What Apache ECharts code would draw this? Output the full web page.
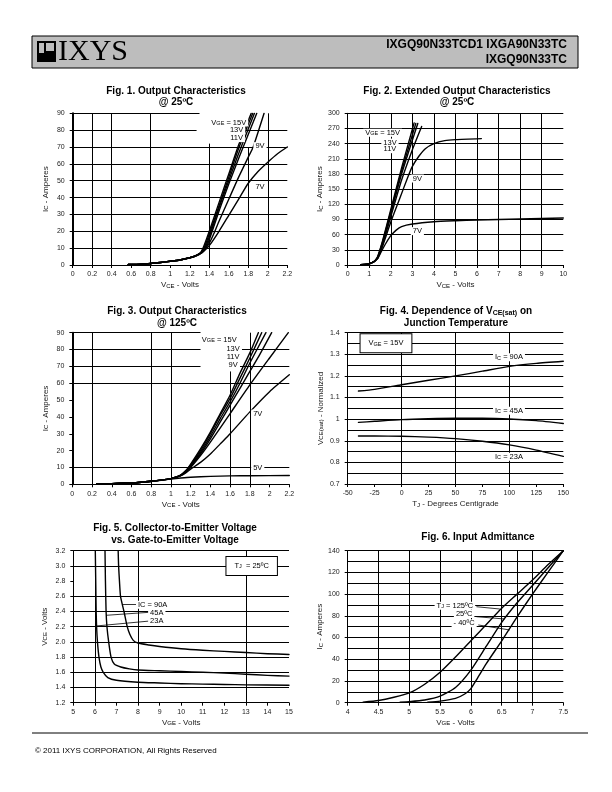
<!DOCTYPE html>
<html><head><meta charset="utf-8">
<script src="https://cdn.jsdelivr.net/npm/echarts/dist/echarts.min.js"></script>
<style>html,body{margin:0;padding:0;background:#fff}#c{width:612px;height:792px}</style>
</head><body><div id="c"></div>
<script>
// ================= DATA =================
// Fig 1 : Output characteristics @25C  [VCE, IC]
const fig1XTicks = [0,0.2,0.4,0.6,0.8,1,1.2,1.4,1.6,1.8,2,2.2];
const fig1YTicks = [0,10,20,30,40,50,60,70,80,90];
const fig1Vge15 = [[0.57,0.3],[0.7,0.5],[0.8,0.9],[0.9,1.5],[1.0,2.2],[1.1,3.0],[1.2,4.3],[1.25,5.2],[1.3,6.8],[1.32,8],[1.35,12],[1.4,20],[1.5,37],[1.6,54],[1.7,71],[1.83,90]];
const fig1Vge13 = [[0.57,0.3],[0.7,0.5],[0.8,0.9],[0.9,1.5],[1.0,2.2],[1.1,3.0],[1.2,4.3],[1.25,5.2],[1.3,6.8],[1.32,8],[1.36,12],[1.41,20],[1.5,35],[1.6,52],[1.7,69],[1.846,90]];
const fig1Vge11 = [[0.57,0.3],[0.7,0.5],[0.8,0.9],[0.9,1.5],[1.0,2.2],[1.1,3.0],[1.2,4.3],[1.25,5.2],[1.3,6.7],[1.32,7.8],[1.37,12],[1.42,20],[1.5,34],[1.6,50],[1.7,66],[1.863,90]];
const fig1VgeD  = [[0.57,0.3],[0.7,0.5],[0.8,0.9],[0.9,1.5],[1.0,2.2],[1.1,3.0],[1.2,4.3],[1.25,5.2],[1.3,6.6],[1.33,7.8],[1.38,12],[1.43,20],[1.5,32],[1.6,48],[1.7,63],[1.887,90]];
const fig1Vge9  = [[0.57,0.3],[0.7,0.5],[0.8,0.9],[0.9,1.5],[1.0,2.2],[1.1,3.0],[1.2,4.3],[1.25,5.2],[1.3,6.5],[1.33,7.5],[1.4,13],[1.45,19],[1.5,26],[1.6,39],[1.7,52],[1.8,64],[1.85,70],[1.962,90]];
const fig1Vge7  = [[0.57,0.3],[0.7,0.5],[0.8,0.9],[0.9,1.5],[1.0,2.2],[1.1,3.0],[1.2,4.3],[1.25,5.1],[1.3,6.3],[1.35,8.5],[1.4,11.5],[1.5,20],[1.6,29.5],[1.7,39],[1.8,48.5],[1.9,55.5],[2.0,61],[2.1,66],[2.2,70]];

// Fig 2 : Extended output characteristics @25C
const fig2XTicks = [0,1,2,3,4,5,6,7,8,9,10];
const fig2YTicks = [0,30,60,90,120,150,180,210,240,270,300];
const fig2Vge15 = [[0.6,0.5],[0.8,1],[1.0,2.5],[1.2,6],[1.3,10],[1.4,18],[1.6,45],[2,110],[2.5,192],[3.08,281]];
const fig2Vge13 = [[0.6,0.5],[0.8,1],[1.0,2.5],[1.2,6],[1.3,10],[1.4,17],[1.6,43],[2,106],[2.5,186],[3.16,280]];
const fig2Vge11 = [[0.6,0.5],[0.8,1],[1.0,2.5],[1.2,6],[1.3,10],[1.4,16],[1.6,41],[2,102],[2.5,180],[3.25,280]];
const fig2VgeD  = [[0.6,0.5],[0.8,1],[1.0,2.5],[1.2,6],[1.3,10],[1.4,15],[1.6,38],[2,96],[2.5,168],[3,228],[3.43,274]];
const fig2Vge9  = [[0.6,0.5],[0.8,1],[1.0,2.5],[1.2,6],[1.3,9.5],[1.4,14],[1.6,35],[2,85],[2.4,130],[2.8,175],[3,195],[3.3,215],[3.6,230],[4,240],[4.5,246],[5,248],[6.2,250]];
const fig2Vge7  = [[0.6,0.5],[0.8,1],[1.0,2.5],[1.2,6],[1.3,9],[1.4,13],[1.6,30],[1.8,45],[2,58],[2.25,69],[2.5,76],[3,81],[4,85.5],[5,87.5],[6,89],[7,90],[8,91],[9,92],[10,93]];

// Fig 3 : Output characteristics @125C
const fig3XTicks = [0,0.2,0.4,0.6,0.8,1,1.2,1.4,1.6,1.8,2,2.2];
const fig3YTicks = [0,10,20,30,40,50,60,70,80,90];
const fig3Vge15 = [[0.25,0.3],[0.4,0.4],[0.6,0.8],[0.7,1.2],[0.8,1.8],[0.9,2.5],[1.0,3.4],[1.05,4.2],[1.1,5.5],[1.15,8],[1.2,12],[1.3,21],[1.4,31],[1.5,42],[1.6,53],[1.7,66],[1.8,78],[1.886,90]];
const fig3Vge13 = [[0.25,0.3],[0.4,0.4],[0.6,0.8],[0.7,1.2],[0.8,1.8],[0.9,2.5],[1.0,3.4],[1.05,4.2],[1.1,5.5],[1.15,8],[1.2,11.5],[1.3,20],[1.4,30],[1.5,41],[1.6,51],[1.7,63],[1.8,75],[1.92,90]];
const fig3Vge11 = [[0.25,0.3],[0.4,0.4],[0.6,0.8],[0.7,1.2],[0.8,1.8],[0.9,2.5],[1.0,3.4],[1.05,4.2],[1.1,5.4],[1.15,7.8],[1.2,11],[1.3,19],[1.4,28.5],[1.5,39],[1.6,49],[1.7,60],[1.8,72],[1.963,90]];
const fig3Vge9  = [[0.25,0.3],[0.4,0.4],[0.6,0.8],[0.7,1.2],[0.8,1.8],[0.9,2.5],[1.0,3.4],[1.05,4.2],[1.1,5.3],[1.15,7.5],[1.2,10.5],[1.3,18],[1.4,27],[1.5,37],[1.6,47],[1.7,57],[1.8,67],[1.9,77],[2.021,90]];
const fig3VgeD  = [[0.25,0.3],[0.4,0.4],[0.6,0.8],[0.7,1.2],[0.8,1.8],[0.9,2.5],[1.0,3.4],[1.05,4.2],[1.1,5.2],[1.15,7.2],[1.2,10],[1.3,17],[1.4,25],[1.6,42],[1.8,59],[2.0,75],[2.19,90]];
const fig3Vge7  = [[0.25,0.3],[0.4,0.4],[0.6,0.8],[0.7,1.2],[0.8,1.8],[0.9,2.5],[1.0,3.4],[1.05,4.1],[1.1,5.1],[1.15,6.8],[1.2,9],[1.3,13],[1.4,18],[1.5,24],[1.6,30],[1.8,43],[2.0,55],[2.2,65]];
const fig3Vge5  = [[0.25,0.3],[0.4,0.4],[0.6,0.8],[0.7,1.2],[0.8,1.7],[0.9,2.4],[1.0,3.1],[1.1,3.7],[1.2,4.2],[1.4,4.7],[1.6,5.0],[1.8,5.1],[2.2,5.2]];

// Fig 4 : VCE(sat) normalized vs junction temperature
const fig4XTicks = [-50,-25,0,25,50,75,100,125,150];
const fig4YTicks = [0.7,0.8,0.9,1,1.1,1.2,1.3,1.4];
const fig4Tj   = [-40,-25,0,25,50,75,100,125,150];
const fig4Ic90 = [1.13,1.138,1.159,1.18,1.2,1.222,1.244,1.258,1.268];
const fig4Ic45 = [0.985,0.99,0.998,1.002,1.004,1.004,1.001,0.993,0.98];
const fig4Ic23 = [0.922,0.922,0.921,0.917,0.91,0.898,0.881,0.857,0.828];

// Fig 5 : VCE vs VGE
const fig5XTicks = [5,6,7,8,9,10,11,12,13,14,15];
const fig5YTicks = [1.2,1.4,1.6,1.8,2.0,2.2,2.4,2.6,2.8,3.0,3.2];
const fig5Ic90 = [[7.08,3.2],[7.1,3.0],[7.14,2.8],[7.19,2.6],[7.35,2.4],[7.5,2.2],[7.62,2.1],[7.78,2.02],[8,1.985],[8.5,1.96],[9,1.94],[10,1.91],[11,1.89],[12,1.875],[13,1.86],[14,1.845],[15,1.835]];
const fig5Ic45 = [[6.47,3.2],[6.49,2.8],[6.52,2.4],[6.56,2.2],[6.64,2.0],[6.75,1.8],[6.9,1.71],[7.2,1.67],[7.6,1.645],[8,1.63],[9,1.62],[10,1.61],[11,1.6],[12,1.59],[13,1.575],[14,1.56],[15,1.55]];
const fig5Ic23 = [[6.02,3.2],[6.04,2.8],[6.06,2.4],[6.08,2.2],[6.12,2.0],[6.19,1.8],[6.28,1.67],[6.39,1.6],[6.6,1.53],[7,1.495],[8,1.47],[9,1.46],[10,1.45],[11,1.445],[12,1.44],[13,1.435],[15,1.43]];

// Fig 6 : Input admittance
const fig6XTicks = [4,4.5,5,5.5,6,6.5,7,7.5];
const fig6YTicks = [0,20,40,60,80,100,120,140];
const fig6Tj125 = [[4.25,0.5],[4.5,2],[4.75,5],[5,9],[5.25,17],[5.5,28],[5.75,42],[6,57],[6.25,72],[6.5,87],[6.75,100],[7,113],[7.25,127],[7.5,140]];
const fig6Tj25  = [[4.85,0.5],[5,1],[5.25,2.5],[5.5,6],[5.75,14],[6,30],[6.25,52],[6.5,74],[6.75,92],[7,108],[7.25,124],[7.5,140]];
const fig6TjM40 = [[5.3,0.5],[5.5,1.5],[5.75,4],[5.9,8],[6,13],[6.1,22],[6.25,36],[6.5,57],[6.75,79],[7,100],[7.25,120],[7.5,140]];

// ================= CHART =================
const F = '"Liberation Sans", Arial, Helvetica, sans-serif';
const subRich = (fs) => ({ s: { fontSize: fs, lineHeight: fs, verticalAlign: 'bottom', fontFamily: F, color: '#000', padding:[0,0,0,0] } });

const grids = [
  {left:72.7, top:113.3, width:214.6, height:151.7},
  {left:347.7, top:113.3, width:215.6, height:151.7},
  {left:72.3, top:332.7, width:217, height:151.6},
  {left:347.7, top:332.7, width:215.6, height:151.3},
  {left:73.3, top:550.7, width:215.7, height:152},
  {left:347.7, top:550.7, width:215.6, height:152}
];
const xTicks = [fig1XTicks, fig2XTicks, fig3XTicks, fig4XTicks, fig5XTicks, fig6XTicks];
const yTicks = [fig1YTicks, fig2YTicks, fig3YTicks, fig4YTicks, fig5YTicks, fig6YTicks];
const xNames = ['V{s|CE} - Volts','V{s|CE} - Volts','V{s|CE} - Volts','T{s|J} - Degrees Centigrade','V{s|GE} - Volts','V{s|GE} - Volts'];
const yNames = ['I{s|C} - Amperes','I{s|C} - Amperes','I{s|C} - Amperes','V{s|CE(sat)} - Normalized','V{s|CE} - Volts','I{s|C} - Amperes'];

const xAxis = xTicks.map((t, i) => ({
  type:'value', gridIndex:i, min:t[0], max:t[t.length-1], interval:t[1]-t[0],
  axisLine:{show:true, onZero:false, lineStyle:{color:'#000', width:1}},
  axisTick:{show:true, length:3, lineStyle:{color:'#000'}},
  splitLine:{show:false},
  axisLabel:{fontSize:7, color:'#222', fontFamily:F, margin:6},
  name:xNames[i], nameLocation:'middle', nameGap:16,
  nameTextStyle:{fontSize:8, color:'#222', fontFamily:F, rich:subRich(6)}
}));
const yAxis = yTicks.map((t, i) => ({
  type:'value', gridIndex:i, min:t[0], max:t[t.length-1], interval:+(t[1]-t[0]).toFixed(6),
  axisLine:{show:true, onZero:false, lineStyle:{color:'#000', width: (i===0||i===2)?2:1}},
  axisTick:{show:true, length:3, lineStyle:{color:'#000'}},
  splitLine:{show:false},
  axisLabel:{fontSize:7, color:'#222', fontFamily:F, margin:8,
    formatter: i===4 ? (v => v.toFixed(1)) : (v => String(+v.toFixed(3)))},
  name:yNames[i], nameLocation:'middle', nameGap: i===4 ? 25 : 23,
  nameTextStyle:{fontSize:8, color:'#222', fontFamily:F, rich:subRich(6)}
}));

// grid lines: vx = full vertical, hy = full horizontal, sg = partial segments [x1,y1,x2,y2]
const gridLines = [
  {vx:[0.2,0.4,0.8,2.0], hy:[10,20,30,40,50,60,70], sg:[[1.4,0,1.4,72],[1.8,0,1.8,70],[0,80,1.27,80],[1.67,80,2.2,80],[0,90,1.3,90]]},
  {vx:[1,2,3,4,5,6,7,8,9], hy:[30,60,90,120,150,180,210,240,270,300], sg:[]},
  {vx:[0.2,0.8,1.0,1.8], hy:[10,60], sg:[[1.6,0,1.6,67],[0,70,1.3,70],[1.7,70,2.2,70],[0,80,1.3,80],[1.72,80,2.2,80],[0,90,1.3,90]]},
  {vx:[0,50,100], hy:[0.75,0.8,0.85,0.9,0.95,1,1.05,1.1,1.15,1.2,1.25,1.3,1.35,1.4], sg:[]},
  {vx:[6,8,13], hy:[1.4,1.6,1.8,2.0,2.2,2.4,2.6,3.0,3.2], sg:[]},
  {vx:[4.5,5,5.5,6,6.5,6.75,7], hy:[10,20,30,40,50,60,70,80,90,100,110,120,130,140], sg:[]}
];

// curve labels (data coordinates) and leader lines
const labels = [
  [{c:[1.6,84.5],t:'V{s|GE} = 15V'},{c:[1.68,80],t:'13V'},{c:[1.68,75.3],t:'11V'},{c:[1.92,70.5],t:'9V'},{c:[1.92,46.3],t:'7V'}],
  [{c:[1.62,261.6],t:'V{s|GE} = 15V'},{c:[1.96,242],t:'13V'},{c:[1.96,229],t:'11V'},{c:[3.23,171],t:'9V'},{c:[3.23,67],t:'7V'}],
  [{c:[1.49,86],t:'V{s|GE} = 15V'},{c:[1.63,80.3],t:'13V'},{c:[1.63,75.4],t:'11V'},{c:[1.63,70.6],t:'9V'},{c:[1.88,42],t:'7V'},{c:[1.88,9.5],t:'5V'}],
  [{c:[-14.5,1.351],t:'V{s|GE} = 15V',box:true},{c:[99.6,1.286],t:'I{s|C} = 90A'},{c:[99.6,1.039],t:'I{s|C} = 45A'},{c:[99.6,0.826],t:'I{s|C} = 23A'}],
  [{c:[13.27,3.0],t:'T{s|J}  = 25ºC',box:true},{c:[8.68,2.49],t:'IC = 90A'},{c:[8.87,2.385],t:'45A'},{c:[8.87,2.28],t:'23A'}],
  [{c:[5.74,89.3],t:'T{s|J} = 125ºC'},{c:[5.89,81.7],t:'25ºC'},{c:[5.89,73.1],t:'- 40ºC'}]
];
const leaders = [[],[],[],[],
  [[7.29,2.49,8.05,2.49],[6.52,2.35,8.55,2.39],[6.08,2.21,8.55,2.275]],
  [[6.09,88.4,6.47,86.3],[6.09,79.2,6.55,77.1],[6.12,71.6,6.63,67]]
];

const curves = [
  [fig1Vge15, fig1Vge13, fig1Vge11, fig1VgeD, fig1Vge9, fig1Vge7],
  [fig2Vge15, fig2Vge13, fig2Vge11, fig2VgeD, fig2Vge9, fig2Vge7],
  [fig3Vge15, fig3Vge13, fig3Vge11, fig3Vge9, fig3VgeD, fig3Vge7, fig3Vge5],
  [fig4Ic90.map((v,k)=>[fig4Tj[k],v]), fig4Ic45.map((v,k)=>[fig4Tj[k],v]), fig4Ic23.map((v,k)=>[fig4Tj[k],v])],
  [fig5Ic90, fig5Ic45, fig5Ic23],
  [fig6Tj125, fig6Tj25, fig6TjM40]
];

const series = [];
curves.forEach((list, i) => {
  list.forEach(d => series.push({
    type:'line', xAxisIndex:i, yAxisIndex:i, data:d, showSymbol:false, symbol:'none',
    smooth:0.2, silent:true, animation:false, z:3,
    lineStyle:{color:'#000', width:1.4, join:'round', cap:'round'}
  }));
  const g = gridLines[i];
  const ml = [];
  g.vx.forEach(v => ml.push({xAxis:v}));
  g.hy.forEach(v => ml.push({yAxis:v}));
  g.sg.forEach(s => ml.push([{coord:[s[0],s[1]]},{coord:[s[2],s[3]]}]));
  series.push({
    type:'line', xAxisIndex:i, yAxisIndex:i, data:[[xTicks[i][0], yTicks[i][0]]], symbol:'none',
    lineStyle:{opacity:0}, silent:true, animation:false, z:1,
    markLine:{silent:true, symbol:['none','none'], animation:false, label:{show:false},
      lineStyle:{color:'#000', width:1, type:'solid'}, emphasis:{disabled:true}, data:ml}
  });
  const mp = labels[i].map(L => ({
    coord:L.c, symbol:'rect', symbolSize:1, itemStyle:{color:'rgba(0,0,0,0)'},
    label:{show:true, position:'inside', formatter:()=>L.t, fontSize:7.5, lineHeight:8, color:'#000', fontFamily:F,
      backgroundColor:'#fff', padding: L.box ? [5,8] : [0,2],
      borderColor: L.box ? '#000' : 'transparent', borderWidth: L.box ? 1 : 0,
      rich:subRich(5.5)}
  }));
  const lm = leaders[i].map(s => [{coord:[s[0],s[1]]},{coord:[s[2],s[3]]}]);
  series.push({
    type:'line', xAxisIndex:i, yAxisIndex:i, data:[[xTicks[i][0], yTicks[i][0]]], symbol:'none',
    lineStyle:{opacity:0}, silent:true, animation:false, z:5,
    markLine: lm.length ? {silent:true, symbol:['none','none'], animation:false, label:{show:false},
      lineStyle:{color:'#000', width:0.8, type:'solid'}, data:lm, z:4} : undefined,
    markPoint:{silent:true, animation:false, data:mp, z:6}
  });
});

const titleStyle = (x, y, text, lh) => ({
  type:'text', x:x, y:y, silent:true,
  style:{text:text, fill:'#000', fontSize:10, fontWeight:'bold', fontFamily:F, align:'center', verticalAlign:'top',
    lineHeight:lh || 11.5, rich:{s:{fontSize:7, fontWeight:'bold', fontFamily:F, verticalAlign:'bottom', lineHeight:7}}}
});

const graphic = [
  {type:'rect', shape:{x:32,y:36,width:546,height:32}, style:{fill:'#bdbdbd', stroke:'#000', lineWidth:1}, silent:true},
  {type:'rect', shape:{x:37,y:41,width:19,height:21}, style:{fill:'#000'}, silent:true},
  {type:'rect', shape:{x:46,y:43,width:8,height:8}, style:{fill:'#bdbdbd'}, silent:true},
  {type:'rect', shape:{x:39,y:43,width:5,height:10}, style:{fill:'#bdbdbd'}, silent:true},
  {type:'text', x:58, y:52, silent:true, style:{text:'IXYS', fill:'#000', fontSize:30, fontFamily:'"Liberation Serif", "Times New Roman", serif', verticalAlign:'middle', align:'left'}},
  {type:'text', x:567, y:45, silent:true, style:{text:'IXGQ90N33TCD1 IXGA90N33TC', fill:'#000', fontSize:12, fontWeight:'bold', fontFamily:F, align:'right', verticalAlign:'middle'}},
  {type:'text', x:567, y:59.5, silent:true, style:{text:'IXGQ90N33TC', fill:'#000', fontSize:12, fontWeight:'bold', fontFamily:F, align:'right', verticalAlign:'middle'}},
  titleStyle(176, 85, 'Fig. 1. Output Characteristics\n@ 25ºC'),
  titleStyle(457, 85, 'Fig. 2. Extended Output Characteristics\n@ 25ºC'),
  titleStyle(177, 305.5, 'Fig. 3. Output Characteristics\n@ 125ºC'),
  titleStyle(456, 305.5, 'Fig. 4. Dependence of V{s|CE(sat)} on\nJunction Temperature'),
  titleStyle(175, 522.5, 'Fig. 5. Collector-to-Emitter Voltage\nvs. Gate-to-Emitter Voltage', 12),
  titleStyle(478, 531, 'Fig. 6. Input Admittance'),
  {type:'line', shape:{x1:32,y1:733,x2:588,y2:733}, style:{stroke:'#000', lineWidth:1}, silent:true},
  {type:'text', x:35, y:750.5, silent:true, style:{text:'© 2011 IXYS CORPORATION, All Rights Reserved', fill:'#000', fontSize:8, fontFamily:F, align:'left', verticalAlign:'middle'}}
];

const chart = echarts.init(document.getElementById('c'), null, {renderer:'canvas'});
chart.setOption({
  animation:false,
  backgroundColor:'#fff',
  grid: grids.map(g => Object.assign({containLabel:false}, g)),
  xAxis, yAxis, series, graphic
});
</script>
</body></html>
